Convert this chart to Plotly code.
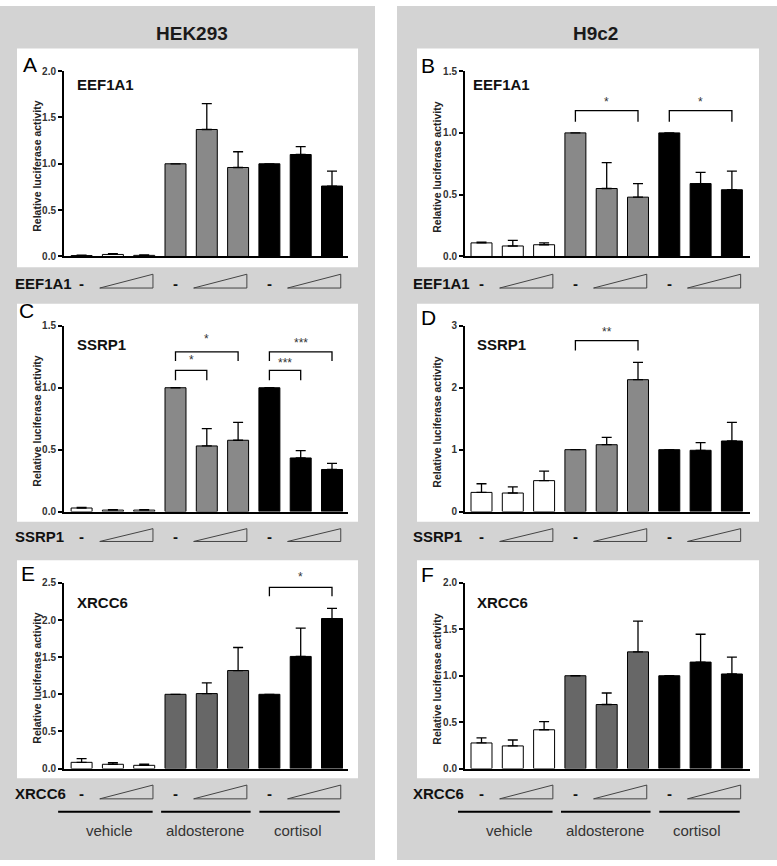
import plotly.graph_objects as go

W, H = 777, 866
FONT = "Arial, Liberation Sans, Helvetica, sans-serif"

# ---------------- data ----------------
bar_pos = list(range(9))
group_labels = ["vehicle", "aldosterone", "cortisol"]
cell_lines = ["HEK293", "H9c2"]
panel_letters = ["A", "B", "C", "D", "E", "F"]
genes = ["EEF1A1", "EEF1A1", "SSRP1", "SSRP1", "XRCC6", "XRCC6"]

A_vals = [0.010, 0.022, 0.012, 1.00, 1.37, 0.96, 1.00, 1.10, 0.76]
A_err = [0.004, 0.008, 0.004, 0.0, 0.28, 0.17, 0.0, 0.085, 0.16]
B_vals = [0.110, 0.085, 0.095, 1.00, 0.55, 0.48, 1.00, 0.59, 0.54]
B_err = [0.005, 0.045, 0.015, 0.0, 0.21, 0.11, 0.0, 0.09, 0.15]
C_vals = [0.029, 0.012, 0.012, 1.00, 0.53, 0.576, 1.00, 0.433, 0.34]
C_err = [0.004, 0.003, 0.003, 0.0, 0.14, 0.145, 0.0, 0.06, 0.05]
D_vals = [0.31, 0.30, 0.50, 1.00, 1.08, 2.13, 1.00, 0.99, 1.14]
D_err = [0.14, 0.10, 0.155, 0.0, 0.12, 0.28, 0.0, 0.125, 0.30]
E_vals = [0.084, 0.058, 0.044, 1.00, 1.01, 1.32, 1.00, 1.51, 2.02]
E_err = [0.05, 0.022, 0.014, 0.0, 0.145, 0.31, 0.0, 0.38, 0.137]
F_vals = [0.276, 0.244, 0.418, 1.00, 0.69, 1.257, 1.00, 1.147, 1.019]
F_err = [0.054, 0.064, 0.088, 0.0, 0.124, 0.332, 0.0, 0.30, 0.181]

y_max = [2.0, 1.5, 1.5, 3.0, 2.5, 2.0]
y_dtick = [0.5, 0.5, 0.5, 1.0, 0.5, 0.5]
y_fmt = [".1f", ".1f", ".1f", "d", ".1f", ".1f"]

# significance brackets
sig_panel = [1, 1, 2, 2, 2, 2, 3, 4]
sig_i = [3, 6, 3, 3, 6, 6, 3, 6]
sig_j = [5, 8, 5, 4, 8, 7, 5, 8]
sig_top = [1.18, 1.18, 1.29, 1.14, 1.29, 1.14, 2.76, 2.44]
sig_leg = [1.09, 1.09, 1.216, 1.06, 1.216, 1.06, 2.60, 2.32]
sig_text = ["*", "*", "*", "*", "***", "***", "**", "*"]
sig_text_y = [1.25, 1.25, 1.39, 1.22, 1.36, 1.20, 2.90, 2.58]

panel_vals = [A_vals, B_vals, C_vals, D_vals, E_vals, F_vals]
panel_err = [A_err, B_err, C_err, D_err, E_err, F_err]

# ---------------- geometry (pixels) ----------------
col_axis_px = [(64, 348), (465, 750)]
col_first_center = [81.6, 481.5]
pitch = 31.3
row_axis_px = [(66, 254), (324.3, 512.7), (585, 773.3)]
white_box_px = [
    (17, 43, 358, 265), (417, 43, 759, 265),
    (17, 302, 358, 523), (417, 302, 759, 523),
    (17, 562, 358, 783), (417, 562, 759, 783),
]
letter_px = [(21, 59), (419, 60), (17, 309), (419, 316), (19, 575), (419, 576)]
gene_in_px = [(75, 80), (471, 80), (75, 343), (475, 343), (75, 605), (475, 605)]
title_px = [(192, 28), (595, 28)]
ytitle_px = [37, 437]
bottom_label_x = [13, 411]
dose_row_y = [(281, 286, 272), (538, 543, 530), (799, 804, 790)]

GREY_BG = "#d3d3d3"
bar_colors_top = ["white"] * 3 + ["#898989"] * 3 + ["black"] * 3
bar_colors_bot = ["white"] * 3 + ["#676767"] * 3 + ["black"] * 3


def px_x(px):
    return px / W


def px_y(py):
    return 1 - py / H


def pos_px(col, pos):
    return col_first_center[col] + pitch * pos


def val_py(p, v):
    top, bot = row_axis_px[p // 2]
    return bot - v / y_max[p] * (bot - top)


fig = go.Figure()
shapes = []
annotations = []

# grey backgrounds
shapes.append(dict(type="rect", xref="paper", yref="paper", x0=0, x1=px_x(375), y0=0, y1=1,
                   fillcolor=GREY_BG, line=dict(width=0), layer="below"))
shapes.append(dict(type="rect", xref="paper", yref="paper", x0=px_x(397), x1=1, y0=0, y1=1,
                   fillcolor=GREY_BG, line=dict(width=0), layer="below"))
for (x0, y0, x1, y1) in white_box_px:
    shapes.append(dict(type="rect", xref="paper", yref="paper", x0=px_x(x0), x1=px_x(x1),
                       y0=px_y(y1), y1=px_y(y0), fillcolor="white", line=dict(width=0),
                       layer="below"))

# column titles
for c, name in enumerate(cell_lines):
    tx, ty = title_px[c]
    annotations.append(dict(x=px_x(tx), y=px_y(ty), xref="paper", yref="paper",
                            text="<b>%s</b>" % name, showarrow=False,
                            xanchor="center", yanchor="middle",
                            font=dict(family=FONT, size=19, color="#1a1a1a")))

layout_axes = {}
for p in range(6):
    row, col = p // 2, p % 2
    idx = p + 1
    xa = "xaxis" if idx == 1 else "xaxis%d" % idx
    ya = "yaxis" if idx == 1 else "yaxis%d" % idx
    xr = "x" if idx == 1 else "x%d" % idx
    yr = "y" if idx == 1 else "y%d" % idx
    ax0, ax1 = col_axis_px[col]
    top, bot = row_axis_px[row]
    r0 = (ax0 - col_first_center[col]) / pitch
    r1 = (ax1 - col_first_center[col]) / pitch
    layout_axes[xa] = dict(domain=[px_x(ax0), px_x(ax1)], range=[r0, r1], anchor=yr,
                           showline=True, linecolor="black", linewidth=2,
                           showticklabels=False, ticks="", showgrid=False, zeroline=False)
    layout_axes[ya] = dict(domain=[px_y(bot), px_y(top)], range=[0, y_max[p]], anchor=xr,
                           showline=True, linecolor="black", linewidth=2, ticks="outside",
                           ticklen=4, tickwidth=1.5, tickcolor="black", dtick=y_dtick[p],
                           tick0=0, tickformat=y_fmt[p], showgrid=False, zeroline=False,
                           tickfont=dict(family=FONT, size=10, color="#333", weight="bold"))

    colors = bar_colors_top if row < 2 else bar_colors_bot
    fig.add_trace(go.Bar(
        x=bar_pos, y=panel_vals[p], width=0.67, xaxis=xr, yaxis=yr,
        marker=dict(color=colors, line=dict(color="black", width=1)),
        error_y=dict(type="data", symmetric=False, array=panel_err[p],
                     arrayminus=[0] * 9, color="black", thickness=1.3, width=5),
        showlegend=False))

    lx, ly = letter_px[p]
    annotations.append(dict(x=px_x(lx), y=px_y(ly), xref="paper", yref="paper",
                            text=panel_letters[p], showarrow=False, xanchor="left",
                            yanchor="middle", font=dict(family=FONT, size=21, color="black")))
    gx, gy = gene_in_px[p]
    annotations.append(dict(x=px_x(gx), y=px_y(gy), xref="paper", yref="paper",
                            text="<b>%s</b>" % genes[p], showarrow=False, xanchor="left",
                            yanchor="middle", font=dict(family=FONT, size=15, color="#111")))
    annotations.append(dict(x=px_x(ytitle_px[col]), y=px_y((top + bot) / 2 + 3),
                            xref="paper", yref="paper",
                            text="<b>Relative luciferase activity</b>", showarrow=False,
                            textangle=-90, xanchor="center", yanchor="middle",
                            font=dict(family=FONT, size=10.5, color="#222")))

    ty, tri_b, tri_t = dose_row_y[row]
    annotations.append(dict(x=px_x(bottom_label_x[col]), y=px_y(ty), xref="paper",
                            yref="paper", text="<b>%s</b>" % genes[p], showarrow=False,
                            xanchor="left", yanchor="middle",
                            font=dict(family=FONT, size=15, color="#111")))
    for g in range(3):
        annotations.append(dict(x=px_x(pos_px(col, 3 * g)), y=px_y(ty), xref="paper",
                                yref="paper", text="<b>-</b>", showarrow=False,
                                xanchor="center", yanchor="middle",
                                font=dict(family=FONT, size=15, color="#111")))
        xs = px_x(pos_px(col, 3 * g + 0.58))
        xe = px_x(pos_px(col, 3 * g + 2.28))
        path = "M %f,%f L %f,%f L %f,%f Z" % (xs, px_y(tri_b), xe, px_y(tri_t), xe, px_y(tri_b))
        shapes.append(dict(type="path", xref="paper", yref="paper", path=path,
                           fillcolor="rgba(0,0,0,0)", line=dict(color="#444", width=1)))

    if row == 2:
        starts = [-0.75, 2.54, 5.68]
        ends = [2.27, 5.40, 8.25]
        centers = [0.9, 3.95, 6.9]
        for g in range(3):
            shapes.append(dict(type="line", xref="paper", yref="paper",
                               x0=px_x(pos_px(col, starts[g])), x1=px_x(pos_px(col, ends[g])),
                               y0=px_y(817), y1=px_y(817),
                               line=dict(color="black", width=2)))
            annotations.append(dict(x=px_x(pos_px(col, centers[g])), y=px_y(836),
                                    xref="paper", yref="paper", text=group_labels[g],
                                    showarrow=False, xanchor="center", yanchor="middle",
                                    font=dict(family=FONT, size=15, color="#333")))

# significance brackets
for k in range(len(sig_panel)):
    p = sig_panel[k]
    col = p % 2
    idx = p + 1
    xr = "x" if idx == 1 else "x%d" % idx
    yr = "y" if idx == 1 else "y%d" % idx
    i, j = sig_i[k], sig_j[k]
    path = "M %f,%f L %f,%f L %f,%f L %f,%f" % (i, sig_leg[k], i, sig_top[k], j, sig_top[k],
                                                  j, sig_leg[k])
    shapes.append(dict(type="path", xref=xr, yref=yr, path=path,
                       line=dict(color="black", width=1.3)))
    annotations.append(dict(x=px_x(pos_px(col, (i + j) / 2)), y=px_y(val_py(p, sig_text_y[k])),
                            xref="paper", yref="paper",
                            text=sig_text[k], showarrow=False, xanchor="center",
                            yanchor="middle",
                            font=dict(family=FONT, size=12, color="#333")))

fig.update_layout(
    width=W, height=H, autosize=False,
    margin=dict(l=0, r=0, t=0, b=0),
    paper_bgcolor="white", plot_bgcolor="rgba(0,0,0,0)",
    shapes=shapes, annotations=annotations, bargap=0.3,
    **layout_axes,
)

fig.write_html("out.html", config={"displayModeBar": False},
               post_script="document.body.style.margin='0';document.body.style.padding='0';")
